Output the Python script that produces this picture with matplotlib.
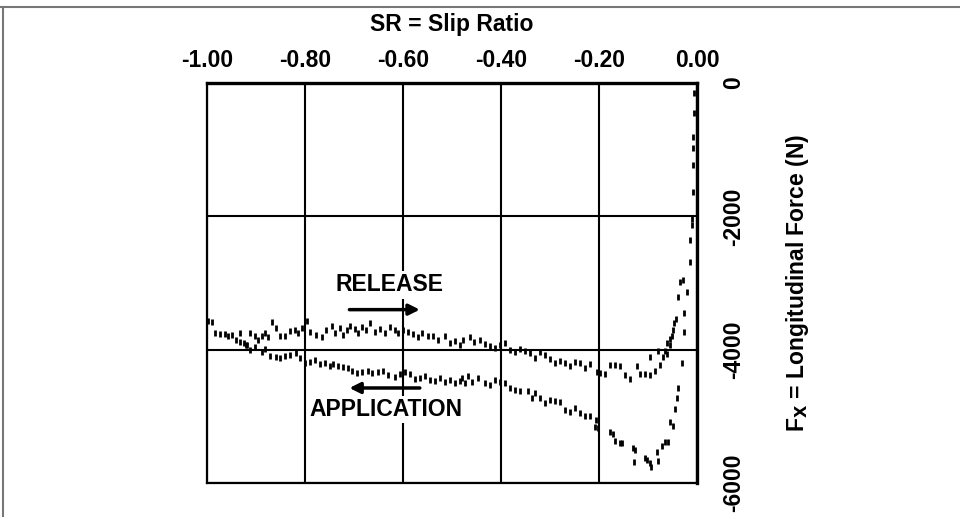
import numpy as np
import matplotlib
matplotlib.use('Agg')
import matplotlib.pyplot as plt
from matplotlib.lines import Line2D


# ==== Data ====

# release branch: slip ratio going back towards zero
releaseSR = [-0.998, -0.990, -0.984, -0.973, -0.963, -0.957, -0.949, -0.941, -0.933, -0.924,
             -0.918, -0.912, -0.902, -0.896, -0.888, -0.882, -0.876, -0.867, -0.859, -0.851,
             -0.841, -0.831, -0.820, -0.814, -0.806, -0.796, -0.790, -0.778, -0.765, -0.757,
             -0.745, -0.739, -0.729, -0.722, -0.714, -0.708, -0.698, -0.692, -0.684, -0.676,
             -0.667, -0.657, -0.647, -0.637, -0.627, -0.616, -0.610, -0.600, -0.590, -0.580,
             -0.569, -0.561, -0.549, -0.539, -0.529, -0.514, -0.504, -0.494, -0.484, -0.478,
             -0.463, -0.455, -0.443, -0.433, -0.422, -0.412, -0.402, -0.392, -0.382, -0.371,
             -0.361, -0.351, -0.341, -0.331, -0.320, -0.310, -0.300, -0.290, -0.280, -0.269,
             -0.259, -0.249, -0.239, -0.229, -0.218, -0.204, -0.198, -0.188, -0.178, -0.167,
             -0.157, -0.147, -0.137, -0.122, -0.116, -0.106, -0.096, -0.096, -0.086, -0.080,
             -0.076, -0.069, -0.065, -0.061, -0.061, -0.055, -0.055, -0.051, -0.049, -0.047,
             -0.043, -0.039, -0.035, -0.029]
releaseFx = [-3570, -3580, -3750, -3770, -3770, -3800, -3780, -3860, -3750, -3900,
             -3930, -3750, -3800, -3860, -3800, -3750, -3810, -3590, -3680, -3800,
             -3800, -3720, -3710, -3750, -3680, -3570, -3740, -3780, -3810, -3710,
             -3650, -3750, -3680, -3780, -3710, -3650, -3690, -3750, -3660, -3710,
             -3600, -3740, -3690, -3750, -3660, -3710, -3750, -3710, -3740, -3770,
             -3810, -3750, -3800, -3800, -3860, -3800, -3900, -3870, -3930, -3860,
             -3810, -3890, -3860, -3920, -3950, -3980, -3930, -3900, -4010, -4040,
             -3990, -4020, -4050, -4130, -4040, -4080, -4140, -4200, -4170, -4200,
             -4250, -4190, -4200, -4280, -4220, -4340, -4350, -4360, -4230, -4230,
             -4250, -4380, -4440, -4250, -4370, -4360, -4380, -4110, -4320, -4020,
             -4230, -4110, -4020, -4060, -3900, -3840, -3930, -3800, -3700, -3600,
             -3540, -3210, -2980, -2960]

# application branch: brake applied, slip ratio growing
applySR = [-0.006, -0.006, -0.008, -0.008, -0.008, -0.008, -0.010, -0.010, -0.014, -0.014,
           -0.020, -0.027, -0.027, -0.031, -0.039, -0.041, -0.045, -0.049, -0.055, -0.059,
           -0.065, -0.071, -0.080, -0.082, -0.094, -0.096, -0.102, -0.106, -0.127, -0.129,
           -0.131, -0.153, -0.157, -0.167, -0.171, -0.178, -0.202, -0.206, -0.208, -0.218,
           -0.229, -0.239, -0.249, -0.259, -0.269, -0.280, -0.290, -0.300, -0.310, -0.320,
           -0.331, -0.337, -0.345, -0.361, -0.371, -0.382, -0.392, -0.402, -0.412, -0.422,
           -0.433, -0.447, -0.459, -0.467, -0.473, -0.480, -0.484, -0.494, -0.504, -0.514,
           -0.524, -0.535, -0.545, -0.555, -0.565, -0.576, -0.586, -0.596, -0.606, -0.616,
           -0.631, -0.641, -0.651, -0.663, -0.671, -0.684, -0.694, -0.704, -0.712, -0.722,
           -0.733, -0.743, -0.749, -0.759, -0.769, -0.780, -0.790, -0.800, -0.810, -0.818,
           -0.831, -0.841, -0.851, -0.859, -0.871, -0.882, -0.888, -0.902, -0.912, -0.920,
           -0.933]
applyFx = [-150, -450, -810, -975, -1230, -1640, -2040, -2130, -2355, -2685,
           -3135, -3450, -3735, -4200, -4575, -4725, -4890, -5145, -5085, -5385,
           -5385, -5445, -5670, -5535, -5760, -5700, -5655, -5625, -5505, -5685,
           -5475, -5400, -5400, -5370, -5265, -5235, -5175, -5055, -5160, -4995,
           -4995, -4950, -4875, -4935, -4905, -4785, -4770, -4755, -4800, -4725,
           -4650, -4725, -4620, -4620, -4605, -4575, -4500, -4485, -4455, -4530,
           -4500, -4425, -4485, -4395, -4500, -4425, -4470, -4500, -4455, -4485,
           -4425, -4470, -4455, -4395, -4425, -4440, -4365, -4335, -4365, -4410,
           -4380, -4320, -4335, -4350, -4320, -4335, -4350, -4320, -4275, -4260,
           -4245, -4215, -4245, -4200, -4215, -4155, -4185, -4200, -4125, -4050,
           -4080, -4095, -4125, -4110, -4095, -3990, -4035, -3960, -4005, -3930,
           -3885]

xTicks = [-1.00, -0.80, -0.60, -0.40, -0.20, 0.00]
yTicks = [0, -2000, -4000, -6000]


# ==== Plot ====

plt.rcParams['font.family'] = ['Liberation Sans', 'DejaVu Sans']
plt.rcParams['font.weight'] = 'bold'

fig = plt.figure(figsize=(9.6, 5.17), dpi=100)
ax = fig.add_axes([0.2156, 0.0658, 0.5104, 0.7737])

ax.set_xlim(-1.0, 0.0)
ax.set_ylim(-6000, 0)

ax.plot(releaseSR, releaseFx, linestyle='none', marker='|', markersize=5,
        markeredgewidth=2.0, color='black')
ax.plot(applySR, applyFx, linestyle='none', marker='|', markersize=5,
        markeredgewidth=2.0, color='black')

ax.set_xticks(xTicks)
ax.set_xticklabels(['%.2f' % v for v in xTicks])
ax.set_yticks(yTicks)
ax.set_yticklabels([str(v) for v in yTicks])

ax.xaxis.tick_top()
ax.xaxis.set_label_position('top')
ax.yaxis.tick_right()
ax.yaxis.set_label_position('right')
ax.tick_params(axis='x', length=0, pad=8, labelsize=16.5)
ax.tick_params(axis='y', length=0, pad=18, labelsize=16.5)
for lbl in ax.get_yticklabels():
    lbl.set_rotation(90)
    lbl.set_va('center')

ax.grid(True, color='black', linewidth=1.5)
ax.set_axisbelow(True)

for side in ('left', 'bottom'):
    ax.spines[side].set_linewidth(1.6)
for side in ('top', 'right'):
    ax.spines[side].set_linewidth(2.4)

ax.set_xlabel('SR = Slip Ratio', fontsize=16.5, fontweight='bold', labelpad=13)
ax.set_ylabel('F$_\\mathbf{X}$ = Longitudinal Force (N)', fontsize=16.5,
              fontweight='bold', labelpad=28, rotation=90)

# hysteresis direction labels
box = dict(facecolor='white', edgecolor='none', pad=1.5)
ax.text(-0.627, -3030, 'RELEASE', fontsize=16.5, fontweight='bold',
        ha='center', va='center', bbox=box, zorder=3)
ax.annotate('', xy=(-0.560, -3400), xytext=(-0.715, -3400),
            arrowprops=dict(arrowstyle='-|>', lw=2.5, color='black', mutation_scale=16))
ax.annotate('', xy=(-0.715, -4575), xytext=(-0.560, -4575),
            arrowprops=dict(arrowstyle='-|>', lw=2.5, color='black', mutation_scale=16))
ax.text(-0.635, -4900, 'APPLICATION', fontsize=16.5, fontweight='bold',
        ha='center', va='center', bbox=box, zorder=3)

# scan border of the page
fig.add_artist(Line2D([0, 1], [0.987, 0.987], color='#777777', linewidth=1.5))
fig.add_artist(Line2D([0.003, 0.003], [0, 0.987], color='#777777', linewidth=1.5))

fig.savefig('out.png', dpi=100)
